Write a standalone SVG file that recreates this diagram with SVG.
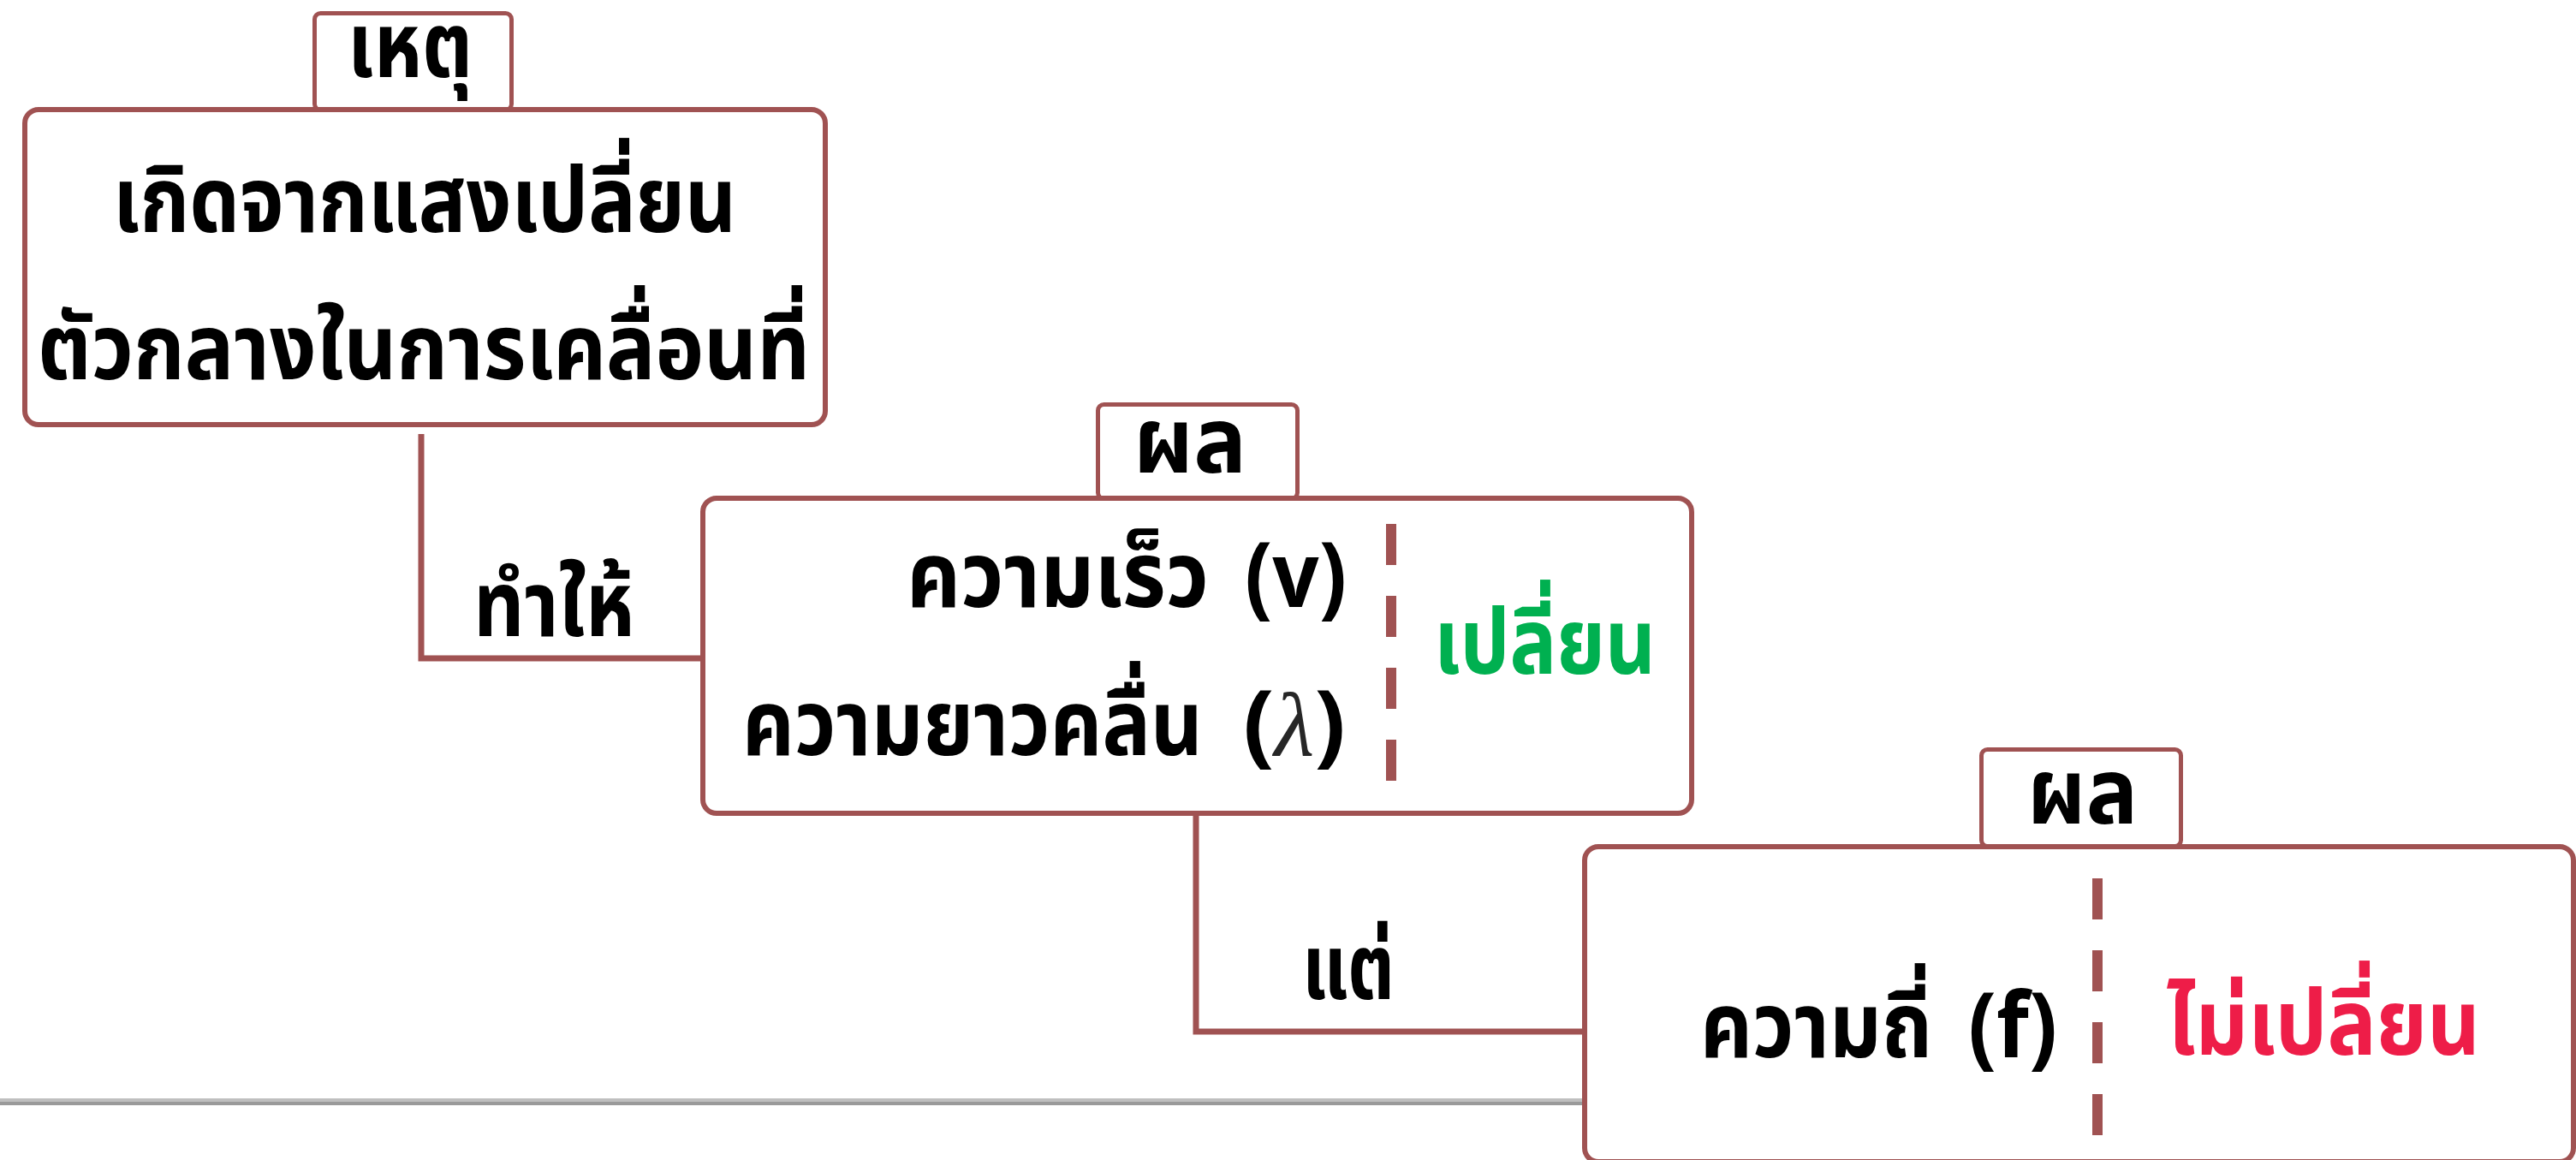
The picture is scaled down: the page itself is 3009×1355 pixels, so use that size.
<svg xmlns="http://www.w3.org/2000/svg" width="3009" height="1355" viewBox="0 0 3009 1355">
<style>
.box{fill:#fff;stroke:#A05252;stroke-width:6}
.tab{fill:#fff;stroke:#A05252;stroke-width:5}
.conn{fill:none;stroke:#A05252;stroke-width:7}
.dash{fill:none;stroke:#A05252;stroke-width:12;stroke-dasharray:48 36}
.t{font-family:"Noto Sans Thai","Noto Sans Thai UI","Noto Sans","DejaVu Sans",sans-serif;font-weight:bold;font-size:106px;fill:#000}
.c{text-anchor:middle}
.lam{font-family:"Liberation Serif",serif;font-style:italic;font-weight:normal;fill:#262626}
</style>
<rect x="0" y="1283" width="1851" height="4" fill="#bfbfbf"/>
<rect x="0" y="1287" width="1851" height="4" fill="#9a9a9a"/>
<g id="connectors">
<polyline class="conn" points="492,507 492,769 821,769"/>
<polyline class="conn" points="1397,953 1397,1205 1851,1205"/>
</g>
<g id="cause">
<rect class="tab" x="367.5" y="15.5" width="230" height="113" rx="7"/>
<text class="t c" x="479" y="90" textLength="146" lengthAdjust="spacingAndGlyphs">เหตุ</text>
<rect class="box" x="29" y="128" width="935" height="368" rx="16"/>
<text class="t c" x="496" y="271" textLength="728" lengthAdjust="spacingAndGlyphs">เกิดจากแสงเปลี่ยน</text>
<text class="t c" x="495" y="443" textLength="902" lengthAdjust="spacingAndGlyphs">ตัวกลางในการเคลื่อนที่</text>
</g>
<g id="label-tamhai"><text class="t c" x="647" y="743" textLength="188" lengthAdjust="spacingAndGlyphs">ทำให้</text></g>
<g id="effect1">
<rect class="tab" x="1282.5" y="472.5" width="233" height="110" rx="7"/>
<text class="t c" x="1390" y="552" textLength="132" lengthAdjust="spacingAndGlyphs">ผล</text>
<rect class="box" x="821" y="582" width="1155" height="368" rx="16"/>
<text class="t" y="709"><tspan x="1059" textLength="353" lengthAdjust="spacingAndGlyphs">ความเร็ว</tspan> <tspan x="1454" textLength="119" lengthAdjust="spacingAndGlyphs">(v)</tspan></text>
<text class="t" y="882"><tspan x="867" textLength="538" lengthAdjust="spacingAndGlyphs">ความยาวคลื่น</tspan> <tspan x="1452" textLength="120" lengthAdjust="spacingAndGlyphs">(<tspan class="lam">λ</tspan>)</tspan></text>
<line class="dash" x1="1625" y1="612" x2="1625" y2="912"/>
<text class="t" x="1675" y="787" textLength="259" lengthAdjust="spacingAndGlyphs" style="fill:#00B050">เปลี่ยน</text>
</g>
<g id="label-tae"><text class="t c" x="1575" y="1167" textLength="108" lengthAdjust="spacingAndGlyphs">แต่</text></g>
<g id="effect2">
<rect class="tab" x="2314.5" y="875.5" width="233" height="113" rx="7"/>
<text class="t c" x="2432.5" y="962" textLength="129" lengthAdjust="spacingAndGlyphs">ผล</text>
<rect class="box" x="1851" y="989" width="1155" height="368" rx="16"/>
<text class="t" y="1235"><tspan x="1986" textLength="271" lengthAdjust="spacingAndGlyphs">ความถี่</tspan> <tspan x="2299" textLength="104" lengthAdjust="spacingAndGlyphs">(f)</tspan></text>
<line class="dash" x1="2450" y1="1026" x2="2450" y2="1326"/>
<text class="t" x="2531" y="1232" textLength="366" lengthAdjust="spacingAndGlyphs" style="fill:#EE1D48">ไม่เปลี่ยน</text>
</g>
</svg>
